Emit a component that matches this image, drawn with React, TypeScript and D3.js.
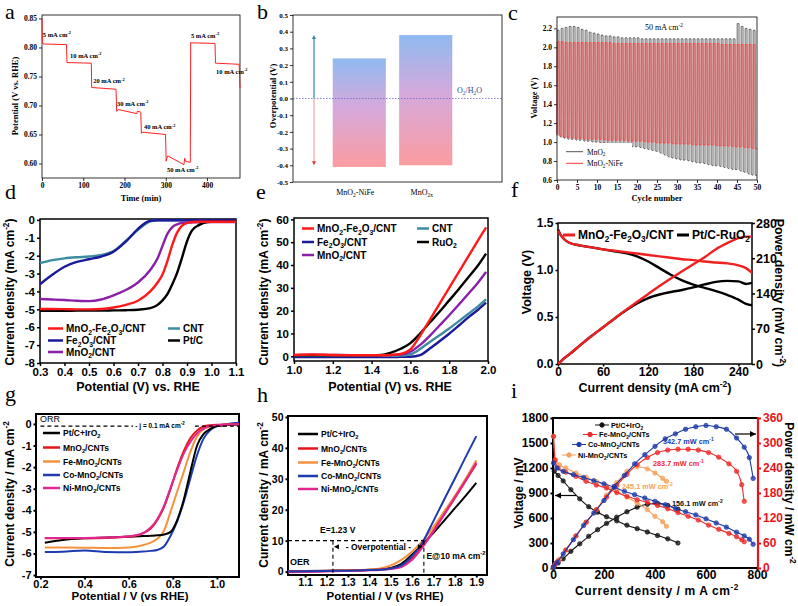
import React, { useEffect, useRef } from "react";
import * as d3 from "d3";

const W = 798;
const H = 606;
const SERIF = "'Liberation Serif','Times New Roman',serif";
const SANS = "'Liberation Sans',Arial,Helvetica,sans-serif";

// ---------- a: potential vs time at stepped current
const aTime = [0, 1, 3, 59.5, 60.5, 119.5, 120.5, 179.5, 181, 185, 230, 231, 238, 239.5, 241, 243, 299.5, 301, 303, 305, 344, 346, 348, 359.5, 360.5, 362, 419.5, 420.5, 478, 480];
const aPot = [0.85, 0.81, 0.806, 0.805, 0.774, 0.773, 0.731, 0.728, 0.69, 0.693, 0.686, 0.69, 0.689, 0.688, 0.652, 0.654, 0.65, 0.604, 0.61, 0.613, 0.598, 0.609, 0.604, 0.602, 0.809, 0.808, 0.807, 0.773, 0.771, 0.73];
const aNotes = ["5 mA cm{^-2}", "10 mA cm{^-2}", "20 mA cm{^-2}", "30 mA cm{^-2}", "40 mA cm{^-2}", "50 mA cm{^-2}", "5 mA cm{^-2}", "10 mA cm{^-2}"];
const aNoteT = [2, 68, 124, 182, 247, 303, 361, 422];
const aNoteV = [0.818, 0.782, 0.738, 0.699, 0.659, 0.585, 0.816, 0.754];
const aXTicks = [0, 100, 200, 300, 400];
const aYTicks = [0.6, 0.65, 0.7, 0.75, 0.8, 0.85];

// ---------- b: overpotential bars
const bCats = ["MnO{_2}-NiFe", "MnO{_2x}"];
const bTop = [0.24, 0.38];
const bBottom = [-0.41, -0.4];
const bArrowUp = 0.38;
const bArrowDown = -0.4;
const bYTicks = [-0.5, -0.4, -0.3, -0.2, -0.1, 0, 0.1, 0.2, 0.3, 0.4, 0.5];

// ---------- c: charge / discharge cycling (upper and lower plateau per cycle)
const cMnUp = [2.18, 2.2, 2.21, 2.22, 2.22, 2.21, 2.19, 2.18, 2.16, 2.15, 2.14, 2.13, 2.12, 2.12, 2.11, 2.11, 2.1, 2.1, 2.1, 2.1, 2.1, 2.09, 2.09, 2.09, 2.09, 2.09, 2.09, 2.09, 2.09, 2.09, 2.09, 2.09, 2.09, 2.09, 2.09, 2.09, 2.09, 2.09, 2.09, 2.09, 2.09, 2.09, 2.09, 2.09, 2.09, 2.25, 2.22, 2.2, 2.19, 2.18];
const cMnLow = [1.07, 1.05, 1.04, 1.03, 1.03, 1.02, 1.02, 1.01, 1.01, 1.0, 1.0, 0.99, 0.99, 0.98, 0.98, 0.97, 0.97, 0.96, 0.96, 0.95, 0.95, 0.94, 0.93, 0.92, 0.91, 0.9, 0.88, 0.86, 0.84, 0.83, 0.82, 0.81, 0.81, 0.8, 0.79, 0.78, 0.78, 0.77, 0.76, 0.75, 0.75, 0.74, 0.73, 0.72, 0.71, 0.71, 0.69, 0.68, 0.66, 0.65];
const cNiUp = [2.06, 2.06, 2.05, 2.05, 2.05, 2.05, 2.05, 2.05, 2.05, 2.05, 2.05, 2.05, 2.05, 2.05, 2.04, 2.04, 2.04, 2.04, 2.04, 2.04, 2.04, 2.04, 2.04, 2.04, 2.04, 2.04, 2.04, 2.04, 2.04, 2.04, 2.04, 2.04, 2.04, 2.04, 2.04, 2.04, 2.04, 2.04, 2.04, 2.04, 2.04, 2.03, 2.03, 2.03, 2.03, 2.03, 2.03, 2.03, 2.03, 2.03];
const cNiLow = [1.08, 1.06, 1.05, 1.05, 1.04, 1.04, 1.04, 1.03, 1.03, 1.03, 1.03, 1.03, 1.02, 1.02, 1.02, 1.02, 1.02, 1.02, 1.01, 1.01, 1.01, 1.01, 1.0, 1.0, 1.0, 0.99, 0.99, 0.99, 0.99, 0.98, 0.98, 0.98, 0.98, 0.98, 0.97, 0.97, 0.97, 0.97, 0.97, 0.97, 0.96, 0.96, 0.96, 0.96, 0.95, 0.95, 0.95, 0.94, 0.94, 0.93];
const cXTicks = [0, 5, 10, 15, 20, 25, 30, 35, 40, 45, 50];
const cYTicks = [0.6, 0.8, 1.0, 1.2, 1.4, 1.6, 1.8, 2.0, 2.2];

// ---------- d: ORR polarization
const dPot = [0.3, 0.35, 0.4, 0.45, 0.5, 0.55, 0.6, 0.65, 0.7, 0.75, 0.78, 0.8, 0.82, 0.84, 0.86, 0.88, 0.9, 0.92, 0.95, 0.98, 1.0, 1.05, 1.1];
const dMnFe = [-4.98, -4.98, -4.99, -5.0, -5.0, -4.98, -4.9, -4.75, -4.52, -4.0, -3.5, -3.05, -2.3, -1.4, -0.7, -0.32, -0.17, -0.12, -0.1, -0.1, -0.1, -0.1, -0.1];
const dFe = [-3.6, -3.07, -2.62, -2.35, -2.2, -2.05, -1.78, -1.22, -0.5, -0.05, -0.02, -0.02, -0.02, -0.02, -0.02, -0.02, -0.02, -0.02, -0.02, -0.02, -0.02, -0.02, -0.02];
const dMn = [-4.42, -4.45, -4.48, -4.52, -4.54, -4.45, -4.22, -3.92, -3.5, -2.8, -2.15, -1.45, -0.78, -0.4, -0.25, -0.17, -0.15, -0.14, -0.13, -0.13, -0.12, -0.12, -0.12];
const dCnt = [-2.42, -2.25, -2.15, -2.09, -2.05, -1.96, -1.74, -1.18, -0.56, -0.08, -0.02, -0.02, -0.02, -0.02, -0.02, -0.02, -0.02, -0.02, -0.02, -0.02, -0.02, -0.02, -0.02];
const dPt = [-5.08, -5.08, -5.08, -5.07, -5.07, -5.07, -5.06, -5.05, -5.02, -4.93, -4.75, -4.5, -4.15, -3.6, -2.95, -2.1, -1.2, -0.6, -0.28, -0.12, -0.1, -0.1, -0.1];
const dXTicks = [0.3, 0.4, 0.5, 0.6, 0.7, 0.8, 0.9, 1.0, 1.1];
const dYTicks = [0, -1, -2, -3, -4, -5, -6, -7, -8];

// ---------- e: OER polarization
const ePot = [1.0, 1.1, 1.2, 1.3, 1.4, 1.45, 1.5, 1.55, 1.6, 1.65, 1.7, 1.75, 1.8, 1.85, 1.9, 1.95, 1.99];
const eMnFe = [0.6, 0.8, 0.6, 0.5, 0.5, 0.5, 0.6, 1.0, 3.0, 9.0, 16.0, 23.0, 30.0, 37.0, 44.0, 51.0, 56.5];
const eFe = [-0.3, -0.3, -0.3, -0.3, -0.3, -0.3, -0.3, -0.25, -0.2, 0.5, 3.4, 6.6, 9.9, 13.5, 17.2, 20.5, 23.5];
const eMn = [0.5, 0.7, 0.6, 0.5, 0.5, 0.5, 0.6, 0.8, 2.0, 5.0, 9.0, 13.5, 18.0, 22.7, 27.5, 32.5, 37.0];
const eCnt = [0.2, 0.2, 0.2, 0.2, 0.2, 0.2, 0.2, 0.3, 0.9, 3.2, 6.3, 9.2, 12.2, 15.4, 18.7, 22.0, 25.0];
const eRu = [0.5, 0.5, 0.5, 0.5, 0.5, 0.6, 1.6, 3.3, 5.8, 10.0, 14.8, 19.5, 24.5, 29.5, 34.7, 40.0, 45.0];
const eXTicks = [1.0, 1.2, 1.4, 1.6, 1.8, 2.0];
const eYTicks = [0, 10, 20, 30, 40, 50, 60];

// ---------- f: discharge polarization and power density
const fCur = [0, 3, 8, 15, 30, 45, 60, 75, 90, 105, 120, 135, 150, 165, 180, 195, 210, 225, 240, 250, 258];
const fMnFeV = [1.42, 1.38, 1.33, 1.29, 1.26, 1.24, 1.22, 1.205, 1.19, 1.175, 1.16, 1.145, 1.13, 1.115, 1.105, 1.09, 1.08, 1.07, 1.05, 1.02, 0.97];
const fPtV = [1.43, 1.38, 1.33, 1.29, 1.26, 1.24, 1.22, 1.2, 1.18, 1.145, 1.09, 1.02, 0.95, 0.89, 0.845, 0.81, 0.775, 0.735, 0.685, 0.64, 0.625];
const fMnFeP = [0, 4, 11, 19, 38, 56, 73, 90, 107, 123, 139, 155, 170, 184, 198, 212, 228, 240, 250, 253, 253];
const fPtP = [0, 4, 11, 19, 38, 56, 73, 90, 106, 120, 131, 138, 143, 147, 152, 158, 163, 165, 164, 159, 161];
const fXTicks = [0, 60, 120, 180, 240];
const fYTicks = [0, 0.5, 1.0, 1.5];
const fY2Ticks = [0, 70, 140, 210, 280];

// ---------- g: ORR LSV
const gPot = [0.22, 0.3, 0.4, 0.5, 0.6, 0.65, 0.7, 0.73, 0.76, 0.79, 0.82, 0.85, 0.88, 0.91, 0.94, 0.97, 1.0, 1.05, 1.1];
const gPt = [-5.5, -5.38, -5.3, -5.26, -5.22, -5.2, -5.18, -5.16, -5.12, -5.0, -4.45, -3.5, -2.2, -1.0, -0.46, -0.23, -0.1, -0.05, -0.03];
const gMn = [-5.3, -5.3, -5.3, -5.28, -5.22, -5.12, -4.85, -4.45, -3.85, -3.0, -2.05, -1.25, -0.65, -0.3, -0.12, -0.06, -0.04, -0.03, -0.02];
const gFeMn = [-5.72, -5.72, -5.73, -5.75, -5.72, -5.65, -5.5, -5.32, -4.95, -4.06, -3.13, -2.21, -1.28, -0.58, -0.23, -0.12, -0.06, -0.03, -0.02];
const gCoMn = [-5.93, -5.92, -5.86, -5.93, -5.94, -5.92, -5.88, -5.84, -5.68, -5.18, -4.5, -3.6, -2.5, -1.44, -0.67, -0.28, -0.1, 0.0, 0.05];
const gNiMn = [-5.28, -5.28, -5.28, -5.26, -5.2, -5.12, -4.8, -4.4, -3.8, -2.95, -2.13, -1.36, -0.82, -0.43, -0.22, -0.1, -0.06, -0.03, -0.02];
const gXTicks = [0.2, 0.4, 0.6, 0.8, 1.0];
const gYTicks = [0, -1, -2, -3, -4, -5, -6, -7];
const gLimit = -0.1;

// ---------- h: OER LSV
const hPot = [1.02, 1.1, 1.2, 1.3, 1.4, 1.45, 1.5, 1.55, 1.6, 1.65, 1.7, 1.75, 1.8, 1.85, 1.9];
const hPt = [0.1, 0.2, 0.3, 0.4, 0.6, 0.8, 1.2, 2.5, 5.5, 9.0, 12.5, 16.5, 20.5, 24.5, 28.7];
const hMn = [0.0, 0.1, 0.2, 0.3, 0.5, 0.7, 1.0, 1.8, 4.2, 8.3, 13.3, 18.5, 23.8, 29.3, 34.8];
const hFeMn = [0.0, 0.1, 0.3, 0.4, 0.7, 1.0, 2.0, 3.8, 6.5, 10.0, 14.5, 19.5, 24.5, 30.0, 36.0];
const hCoMn = [0.0, 0.1, 0.2, 0.3, 0.5, 0.6, 1.0, 2.0, 5.0, 9.6, 16.4, 23.3, 30.1, 37.0, 43.8];
const hNiMn = [-0.2, -0.1, 0.0, 0.2, 0.4, 0.5, 0.8, 1.5, 3.8, 8.0, 13.0, 18.5, 24.0, 29.5, 35.3];
const hXTicks = [1.1, 1.2, 1.3, 1.4, 1.5, 1.6, 1.7, 1.8, 1.9];
const hYTicks = [0, 10, 20, 30, 40, 50];
const hE0 = 1.23;
const hE10 = 1.655;
const hJ = 10;

// ---------- i: Zn-air polarization / power (voltage mV, power mW cm-2)
const iPtCur = [5, 20, 40, 70, 105, 140, 175, 210, 250, 290, 330, 370, 410, 450, 490];
const iPtV = [1160, 1110, 1045, 940, 830, 735, 670, 615, 566, 514, 472, 432, 390, 350, 300];
const iPtP = [2, 12, 22, 40, 58, 76, 92, 107, 122, 135, 146, 153, 155, 150, 141];
const iFeCur = [2, 8, 20, 50, 90, 130, 170, 210, 250, 290, 330, 370, 410, 450, 490, 530, 570, 610, 650, 690, 720, 740, 750];
const iFeV = [1580, 1290, 1200, 1150, 1100, 1040, 995, 960, 905, 860, 820, 790, 750, 710, 665, 620, 575, 515, 465, 415, 375, 340, 315];
const iFeP = [3, 10, 17, 43, 77, 110, 140, 170, 198, 225, 248, 265, 277, 283, 285, 285, 283, 277, 266, 250, 232, 200, 160];
const iCoCur = [2, 15, 40, 80, 120, 160, 200, 240, 280, 320, 360, 400, 440, 480, 520, 560, 600, 640, 680, 720, 750, 770, 785];
const iCoV = [1260, 1200, 1160, 1120, 1085, 1048, 1010, 968, 920, 880, 840, 800, 760, 715, 675, 637, 590, 540, 490, 430, 385, 345, 285];
const iCoP = [3, 13, 34, 68, 102, 132, 162, 196, 222, 250, 272, 292, 310, 322, 333, 339, 342, 339, 333, 312, 290, 265, 215];
const iNiCur = [2, 10, 25, 50, 90, 130, 170, 210, 250, 290, 330, 370, 400, 430, 445];
const iNiV = [1580, 1300, 1240, 1200, 1140, 1090, 1040, 985, 925, 850, 780, 700, 620, 555, 500];
const iNiP = [3, 9, 21, 43, 77, 110, 140, 175, 205, 232, 243, 238, 228, 215, 208];
const iXTicks = [0, 200, 400, 600, 800];
const iYTicks = [0, 300, 600, 900, 1200, 1500, 1800];
const iY2Ticks = [0, 60, 120, 180, 240, 300, 360];
const iPeaks = ["342.7 mW cm{^-1}", "283.7 mW cm{^-1}", "245.1 mW cm{^-2}", "156.1 mW cm{^-2}"];

const BOX = {
  a: { l: 42, t: 15, r: 240, b: 178 },
  b: { l: 293, t: 15, r: 502, b: 182 },
  c: { l: 557, t: 17, r: 757, b: 180 },
  d: { l: 40, t: 219, r: 236, b: 363 },
  e: { l: 294, t: 218, r: 488, b: 361 },
  f: { l: 558, t: 223, r: 752, b: 364 },
  g: { l: 36, t: 414, r: 239, b: 577 },
  h: { l: 288, t: 416, r: 487, b: 575 },
  i: { l: 553, t: 418, r: 758, b: 568 },
};

// text with {_sub} and {^sup} markup
function label(g, x, y, str, o) {
  const t = g
    .append("text")
    .attr("transform", `translate(${x},${y})${o.rotate ? ` rotate(${o.rotate})` : ""}`)
    .attr("font-family", o.family || SANS)
    .attr("font-size", o.size)
    .attr("font-weight", o.weight || "bold")
    .attr("text-anchor", o.anchor || "start")
    .attr("fill", o.fill || "#000");
  if (o.spacing) t.attr("letter-spacing", o.spacing);
  let shift = 0;
  str
    .split(/(\{[_^][^}]*\})/)
    .filter(Boolean)
    .forEach((p) => {
      const m = p.match(/^\{([_^])(.*)\}$/);
      const target = m ? (m[1] === "_" ? 0.25 * o.size : -0.42 * o.size) : 0;
      t.append("tspan")
        .attr("dy", target - shift)
        .attr("font-size", m ? o.size * 0.68 : o.size)
        .text(m ? m[2] : p);
      shift = target;
    });
  return t;
}

function frame(g, x, y, B, o) {
  const xa = g
    .append("g")
    .attr("transform", `translate(0,${B.b})`)
    .call(d3.axisBottom(x).tickValues(o.xTicks || []).tickFormat(o.xFmt).tickSizeOuter(0).tickSize(o.tick).tickPadding(o.padX ?? 2));
  const ya = g
    .append("g")
    .attr("transform", `translate(${B.l},0)`)
    .call(d3.axisLeft(y).tickValues(o.yTicks).tickFormat(o.yFmt).tickSizeOuter(0).tickSize(o.tick).tickPadding(o.padY ?? 2));
  [xa, ya].forEach((a) => {
    a.select(".domain").remove();
    a.selectAll("line").attr("stroke", "#000").attr("stroke-width", o.sw);
    a.selectAll("text")
      .attr("fill", "#000")
      .attr("font-family", o.family)
      .attr("font-size", o.size)
      .attr("font-weight", "bold");
  });
  g.append("rect")
    .attr("x", B.l)
    .attr("y", B.t)
    .attr("width", B.r - B.l)
    .attr("height", B.b - B.t)
    .attr("fill", "none")
    .attr("stroke", "#000")
    .attr("stroke-width", o.sw);
}

function curve(g, x, y, xs, ys, color, width, smooth = true) {
  const line = d3
    .line()
    .x((d) => x(d[0]))
    .y((d) => y(d[1]))
    .curve(smooth ? d3.curveMonotoneX : d3.curveLinear);
  return g
    .append("path")
    .datum(d3.zip(xs, ys))
    .attr("d", line)
    .attr("fill", "none")
    .attr("stroke", color)
    .attr("stroke-width", width)
    .attr("stroke-linejoin", "round");
}

function legendRow(g, x1, x2, yc, color, text, size, width) {
  g.append("line").attr("x1", x1).attr("x2", x2).attr("y1", yc).attr("y2", yc).attr("stroke", color).attr("stroke-width", width);
  label(g, x2 + 3, yc + size * 0.36, text, { size });
}

function panelLetters(svg) {
  const letters = [
    ["a", 5, 19],
    ["b", 257, 19],
    ["c", 508, 20],
    ["d", 5, 199],
    ["e", 256, 199],
    ["f", 511, 197],
    ["g", 5, 401],
    ["h", 257, 402],
    ["i", 511, 398],
  ];
  letters.forEach(([s, x, y]) =>
    svg.append("text").attr("x", x).attr("y", y).attr("font-family", SERIF).attr("font-size", 22).text(s)
  );
}

function drawA(svg) {
  const B = BOX.a;
  const x = d3.scaleLinear().domain([0, 480]).range([B.l, B.r]);
  const y = d3.scaleLinear().domain([0.575, 0.856]).range([B.b, B.t]);
  const g = svg.append("g");
  frame(g, x, y, B, { xTicks: aXTicks, yTicks: aYTicks, xFmt: (d) => String(d), yFmt: (d) => d.toFixed(2), size: 7.5, family: SERIF, sw: 0.8, tick: 3 });
  curve(g, x, y, aTime, aPot, "#ff2020", 1, false);
  aNotes.forEach((s, i) => label(g, x(aNoteT[i]), y(aNoteV[i]), s, { size: 6.5, family: SERIF }));
  label(g, 141, 201, "Time (min)", { size: 8.5, family: SERIF, anchor: "middle" });
  label(g, 18, 96, "Potential (V vs. RHE)", { size: 8.5, family: SERIF, anchor: "middle", rotate: -90 });
}

function drawB(svg) {
  const B = BOX.b;
  const y = d3.scaleLinear().domain([-0.5, 0.5]).range([B.b, B.t]);
  const x = d3.scaleBand().domain(bCats).range([332.7, 452.3]).paddingInner(0.2).paddingOuter(0);
  const g = svg.append("g");
  const defs = g.append("defs");
  const grad = defs.append("linearGradient").attr("id", "bgrad").attr("x1", 0).attr("x2", 0).attr("y1", 0).attr("y2", 1);
  grad.append("stop").attr("offset", 0).attr("stop-color", "#8fbaf0");
  grad.append("stop").attr("offset", 0.45).attr("stop-color", "#d6a9dc");
  grad.append("stop").attr("offset", 1).attr("stop-color", "#fb9ca0");
  g.selectAll("rect.bar")
    .data(bCats)
    .join("rect")
    .attr("class", "bar")
    .attr("x", (d) => x(d))
    .attr("width", x.bandwidth())
    .attr("y", (d, i) => y(bTop[i]))
    .attr("height", (d, i) => y(bBottom[i]) - y(bTop[i]))
    .attr("fill", "url(#bgrad)");
  g.append("line").attr("x1", B.l).attr("x2", B.r).attr("y1", y(0)).attr("y2", y(0)).attr("stroke", "#6b6bc8").attr("stroke-width", 0.8).attr("stroke-dasharray", "1.5,1.5");
  const ax = B.l + 21;
  g.append("line").attr("x1", ax).attr("x2", ax).attr("y1", y(0)).attr("y2", y(bArrowUp) + 3).attr("stroke", "#2c8aa0").attr("stroke-width", 1.2);
  g.append("path").attr("d", `M${ax - 2},${y(bArrowUp) + 4}L${ax},${y(bArrowUp)}L${ax + 2},${y(bArrowUp) + 4}Z`).attr("fill", "#2c8aa0");
  g.append("line").attr("x1", ax).attr("x2", ax).attr("y1", y(0)).attr("y2", y(bArrowDown) - 3).attr("stroke", "#f2a0a0").attr("stroke-width", 1.2);
  g.append("path").attr("d", `M${ax - 2},${y(bArrowDown) - 4}L${ax},${y(bArrowDown)}L${ax + 2},${y(bArrowDown) - 4}Z`).attr("fill", "#e03040");
  frame(g, x, y, B, { xTicks: [], yTicks: bYTicks, xFmt: () => "", yFmt: (d) => d.toFixed(1), size: 7, family: SERIF, sw: 0.8, tick: 3 });
  bCats.forEach((c) => label(g, x(c) + x.bandwidth() / 2 - 4, 195, c, { size: 8, family: SERIF, weight: "normal", anchor: "middle" }));
  label(g, 457, y(0.03), "O{_2}/H{_2}O", { size: 8, family: SERIF, weight: "normal", fill: "#3346a0" });
  label(g, 276, 96, "Overpotential (V)", { size: 8.5, family: SERIF, anchor: "middle", rotate: -90 });
}

function wave(up, low) {
  const pts = [];
  up.forEach((u, i) => {
    pts.push([i, low[i]], [i + 0.05, u], [i + 0.5, u], [i + 0.55, low[i]]);
  });
  pts.push([up.length, low[low.length - 1]]);
  return pts;
}

function drawC(svg) {
  const B = BOX.c;
  const x = d3.scaleLinear().domain([0, 50]).range([B.l, B.r]);
  const y = d3.scaleLinear().domain([0.6, 2.32]).range([B.b, B.t]);
  const g = svg.append("g");
  const line = d3.line().x((d) => x(d[0])).y((d) => y(d[1]));
  g.append("path").attr("d", line(wave(cMnUp, cMnLow))).attr("fill", "none").attr("stroke", "#555").attr("stroke-width", 0.9);
  g.append("path").attr("d", line(wave(cNiUp, cNiLow))).attr("fill", "none").attr("stroke", "#ff3a3a").attr("stroke-width", 0.9);
  frame(g, x, y, B, { xTicks: cXTicks, yTicks: cYTicks, xFmt: (d) => String(d), yFmt: (d) => d.toFixed(1), size: 7.5, family: SERIF, sw: 0.8, tick: 3 });
  g.append("rect").attr("x", 562).attr("y", 143).attr("width", 70).attr("height", 26).attr("fill", "#fff");
  g.append("line").attr("x1", 566).attr("x2", 583).attr("y1", 151.7).attr("y2", 151.7).attr("stroke", "#555");
  g.append("line").attr("x1", 566).attr("x2", 583).attr("y1", 163.3).attr("y2", 163.3).attr("stroke", "#ff3a3a");
  label(g, 587, 154.5, "MnO{_2}", { size: 7.5, family: SERIF, weight: "normal" });
  label(g, 587, 166, "MnO{_2}-NiFe", { size: 7.5, family: SERIF, weight: "normal" });
  label(g, 664, 30, "50 mA cm{^-2}", { size: 8, family: SERIF, weight: "normal", anchor: "middle" });
  label(g, 657, 201, "Cycle number", { size: 8.5, family: SERIF, anchor: "middle" });
  label(g, 537, 98, "Voltage (V)", { size: 8.5, family: SERIF, anchor: "middle", rotate: -90 });
}

function drawD(svg) {
  const B = BOX.d;
  const x = d3.scaleLinear().domain([0.3, 1.1]).range([B.l, B.r]);
  const y = d3.scaleLinear().domain([-8, 0.05]).range([B.b, B.t]);
  const g = svg.append("g");
  frame(g, x, y, B, { xTicks: dXTicks, yTicks: dYTicks, xFmt: (d) => d.toFixed(1), yFmt: (d) => String(d), size: 11.5, family: SANS, sw: 1.5, tick: 3 });
  curve(g, x, y, dPot, dCnt, "#3d8ca0", 2.4);
  curve(g, x, y, dPot, dFe, "#1a1a9a", 2.4);
  curve(g, x, y, dPot, dMn, "#8a1fa8", 2.4);
  curve(g, x, y, dPot, dPt, "#000", 2.4);
  curve(g, x, y, dPot, dMnFe, "#ff1a1a", 2.4);
  legendRow(g, 48, 63, 328.5, "#ff1a1a", "MnO{_2}-Fe{_2}O{_3}/CNT", 10, 2.5);
  legendRow(g, 48, 63, 340.5, "#1a1a9a", "Fe{_2}O{_3}/CNT", 10, 2.5);
  legendRow(g, 48, 63, 352, "#8a1fa8", "MnO{_2}/CNT", 10, 2.5);
  legendRow(g, 168, 180, 328.5, "#3d8ca0", "CNT", 10, 2.5);
  legendRow(g, 168, 180, 340.5, "#000", "Pt/C", 10, 2.5);
  label(g, 138, 391, "Potential (V) vs. RHE", { size: 12.5, anchor: "middle" });
  label(g, 14, 292, "Current density (mA cm{^-2})", { size: 12, anchor: "middle", rotate: -90 });
}

function drawE(svg) {
  const B = BOX.e;
  const x = d3.scaleLinear().domain([1, 2]).range([B.l, B.r]);
  const y = d3.scaleLinear().domain([-2.05, 60.6]).range([B.b, B.t]);
  const g = svg.append("g");
  frame(g, x, y, B, { xTicks: eXTicks, yTicks: eYTicks, xFmt: (d) => d.toFixed(1), yFmt: (d) => String(d), size: 11.5, family: SANS, sw: 1.5, tick: 3 });
  curve(g, x, y, ePot, eFe, "#1a1a9a", 2.4);
  curve(g, x, y, ePot, eCnt, "#3d8ca0", 2.4);
  curve(g, x, y, ePot, eMn, "#8a1fa8", 2.4);
  curve(g, x, y, ePot, eRu, "#000", 2.4);
  curve(g, x, y, ePot, eMnFe, "#ff1a1a", 2.4);
  legendRow(g, 302, 314, 228.5, "#ff1a1a", "MnO{_2}-Fe{_2}O{_3}/CNT", 10, 2.5);
  legendRow(g, 302, 314, 242, "#1a1a9a", "Fe{_2}O{_3}/CNT", 10, 2.5);
  legendRow(g, 302, 314, 255, "#8a1fa8", "MnO{_2}/CNT", 10, 2.5);
  legendRow(g, 417, 429, 228.5, "#3d8ca0", "CNT", 10, 2.5);
  legendRow(g, 417, 429, 242, "#000", "RuO{_2}", 10, 2.5);
  label(g, 390, 391, "Potential (V) vs. RHE", { size: 12.5, anchor: "middle" });
  label(g, 268, 292, "Current density (mA cm{^-2})", { size: 12, anchor: "middle", rotate: -90 });
}

function drawF(svg) {
  const B = BOX.f;
  const x = d3.scaleLinear().domain([0, 258]).range([B.l, B.r]);
  const y = d3.scaleLinear().domain([0, 1.5]).range([B.b, B.t]);
  const y2 = d3.scaleLinear().domain([0, 280]).range([B.b, B.t]);
  const g = svg.append("g");
  frame(g, x, y, B, { xTicks: fXTicks, yTicks: fYTicks, xFmt: (d) => String(d), yFmt: (d) => d.toFixed(1), size: 12, family: SANS, sw: 1.5, tick: 2.5, padX: 0.5 });
  const ra = g.append("g").attr("transform", `translate(${B.r},0)`).call(d3.axisRight(y2).tickValues(fY2Ticks).tickSize(3).tickSizeOuter(0).tickPadding(1));
  ra.select(".domain").remove();
  ra.selectAll("line").attr("stroke-width", 1.5);
  ra.selectAll("text").attr("font-family", SANS).attr("font-size", 12.5).attr("font-weight", "bold");
  curve(g, x, y2, fCur, fPtP, "#000", 2.4);
  curve(g, x, y, fCur, fPtV, "#000", 2.4);
  curve(g, x, y2, fCur, fMnFeP, "#ee2020", 2.4);
  curve(g, x, y, fCur, fMnFeV, "#ee2020", 2.4);
  legendRow(g, 563, 575, 235, "#ee2020", "MnO{_2}-Fe{_2}O{_3}/CNT", 12, 3);
  legendRow(g, 677, 689, 235, "#000", "Pt/C-RuO{_2}", 12, 3);
  label(g, 655, 392, "Current density (mA cm{^-2})", { size: 12.5, anchor: "middle" });
  label(g, 531, 282, "Voltage (V)", { size: 12.5, anchor: "middle", rotate: -90 });
  label(g, 775, 293, "Power density (mW cm{^-2})", { size: 12.5, anchor: "middle", rotate: 90 });
}

const GH_COLORS = ["#000", "#e8141b", "#f5923e", "#1f3bb0", "#e0288f"];
const GH_NAMES = ["Pt/C+IrO{_2}", "MnO{_2}/CNTs", "Fe-MnO{_2}/CNTs", "Co-MnO{_2}/CNTs", "Ni-MnO{_2}/CNTs"];
const GH_ROWS = [433, 447.5, 461.5, 475, 488];

function drawG(svg) {
  const B = BOX.g;
  const x = d3.scaleLinear().domain([0.18, 1.1]).range([B.l, B.r]);
  const y = d3.scaleLinear().domain([-7.09, 0.46]).range([B.b, B.t]);
  const g = svg.append("g");
  frame(g, x, y, B, { xTicks: gXTicks, yTicks: gYTicks, xFmt: (d) => d.toFixed(1), yFmt: (d) => String(d), size: 11, family: SANS, sw: 2, tick: 2.5, padX: 1 });
  const series = [gPt, gMn, gFeMn, gCoMn, gNiMn];
  [3, 2, 0, 1, 4].forEach((k) => curve(g, x, y, gPot, series[k], GH_COLORS[k], 2));
  g.append("line").attr("x1", x(0.2)).attr("x2", x(0.62)).attr("y1", y(gLimit)).attr("y2", y(gLimit)).attr("stroke", "#000").attr("stroke-width", 1.2).attr("stroke-dasharray", "4,3");
  g.append("line").attr("x1", x(0.9)).attr("x2", x(1.1)).attr("y1", y(gLimit)).attr("y2", y(gLimit)).attr("stroke", "#000").attr("stroke-width", 1.2).attr("stroke-dasharray", "4,3");
  label(g, x(0.63), y(gLimit) + 2, "- j = 0.1 mA cm{^-2}", { size: 6.5 });
  label(g, 40, 422, "ORR", { size: 9, weight: "normal" });
  GH_NAMES.forEach((n, i) => legendRow(g, 43, 60, GH_ROWS[i], GH_COLORS[i], n, 8.5, 2.5));
  label(g, 130, 600, "Potential / V (vs RHE)", { size: 11.5, anchor: "middle" });
  label(g, 14, 494, "Current density / mA cm{^-2}", { size: 12, anchor: "middle", rotate: -90 });
}

function drawH(svg) {
  const B = BOX.h;
  const x = d3.scaleLinear().domain([1.02, 1.95]).range([B.l, B.r]);
  const y = d3.scaleLinear().domain([-1.1, 50.3]).range([B.b, B.t]);
  const g = svg.append("g");
  frame(g, x, y, B, { xTicks: hXTicks, yTicks: hYTicks, xFmt: (d) => d.toFixed(1), yFmt: (d) => String(d), size: 10.5, family: SANS, sw: 2, tick: 2.5, padX: 1 });
  const series = [hPt, hMn, hFeMn, hCoMn, hNiMn];
  [0, 2, 1, 4, 3].forEach((k) => curve(g, x, y, hPot, series[k], GH_COLORS[k], 2));
  const dash = (x1, y1, x2, y2) =>
    g.append("line").attr("x1", x1).attr("x2", x2).attr("y1", y1).attr("y2", y2).attr("stroke", "#000").attr("stroke-width", 1.1).attr("stroke-dasharray", "4,3");
  dash(B.l, y(hJ), x(hE10), y(hJ));
  dash(x(hE0), y(hJ), x(hE0), y(-0.6));
  dash(x(hE10), y(hJ), x(hE10), B.b);
  const ay = y(8);
  g.append("path").attr("d", `M${x(hE0) + 1},${ay}l5,-2.5v5Z`).attr("fill", "#000");
  g.append("path").attr("d", `M${x(hE10) - 1},${ay}l-5,-2.5v5Z`).attr("fill", "#000");
  label(g, (x(hE0) + x(hE10)) / 2, ay + 3, "- Overpotential -", { size: 8.5, anchor: "middle" });
  label(g, x(1.17), y(12.6), "E=1.23 V", { size: 8.5 });
  label(g, x(1.667), y(4.2), "E@10 mA cm{^-2}", { size: 8.5 });
  label(g, 290, 565, "OER", { size: 9 });
  GH_NAMES.forEach((n, i) => legendRow(g, 298, 318, GH_ROWS[i] + 1, GH_COLORS[i], n, 8.5, 2.5));
  label(g, 385, 600, "Potential / V (vs RHE)", { size: 11.5, anchor: "middle" });
  label(g, 268, 495, "Current density / mA cm{^-2}", { size: 12, anchor: "middle", rotate: -90 });
}

function drawI(svg) {
  const B = BOX.i;
  const x = d3.scaleLinear().domain([0, 800]).range([B.l, 757]);
  const y = d3.scaleLinear().domain([0, 1800]).range([B.b, B.t]);
  const y2 = d3.scaleLinear().domain([0, 360]).range([B.b, B.t]);
  const g = svg.append("g");
  frame(g, x, y, B, { xTicks: iXTicks, yTicks: iYTicks, xFmt: (d) => String(d), yFmt: (d) => String(d), size: 12, family: SANS, sw: 2, tick: 2.5, padX: 0 });
  const red = "#e8141b";
  const ra = g.append("g").attr("transform", `translate(${B.r},0)`).call(d3.axisRight(y2).tickValues(iY2Ticks).tickSize(3).tickSizeOuter(0).tickPadding(2));
  ra.select(".domain").remove();
  ra.selectAll("line").attr("stroke", red).attr("stroke-width", 2);
  ra.selectAll("text").attr("fill", red).attr("font-family", SANS).attr("font-size", 12).attr("font-weight", "bold");
  g.append("line").attr("x1", B.r).attr("x2", B.r).attr("y1", B.t - 1).attr("y2", B.b + 1).attr("stroke", red).attr("stroke-width", 2.2);

  const set = [
    { cur: iPtCur, v: iPtV, p: iPtP, c: "#111" },
    { cur: iNiCur, v: iNiV, p: iNiP, c: "#f5a05a" },
    { cur: iFeCur, v: iFeV, p: iFeP, c: "#ee2a2a" },
    { cur: iCoCur, v: iCoV, p: iCoP, c: "#1c3aa9" },
  ];
  set.forEach((s) => {
    [
      [s.v, y],
      [s.p, y2],
    ].forEach(([vals, sc]) => {
      curve(g, x, sc, s.cur, vals, s.c, 1.1);
      g.append("g")
        .selectAll("circle")
        .data(d3.zip(s.cur, vals))
        .join("circle")
        .attr("cx", (d) => x(d[0]))
        .attr("cy", (d) => sc(d[1]))
        .attr("r", 2.2)
        .attr("fill", s.c)
        .attr("fill-opacity", 0.75)
        .attr("stroke", s.c)
        .attr("stroke-width", 0.7);
    });
  });

  // legend (staggered)
  const leg = [
    ["Pt/C+IrO{_2}", "#111", 595, 425],
    ["Fe-MnO{_2}/CNTs", "#ee2a2a", 583, 434.5],
    ["Co-MnO{_2}/CNTs", "#1c3aa9", 572, 444.5],
    ["Ni-MnO{_2}/CNTs", "#f5a05a", 562, 455],
  ];
  leg.forEach(([n, c, lx, ly]) => {
    g.append("line").attr("x1", lx).attr("x2", lx + 14).attr("y1", ly).attr("y2", ly).attr("stroke", c).attr("stroke-width", 1);
    g.append("circle").attr("cx", lx + 7).attr("cy", ly).attr("r", 2.2).attr("fill", c).attr("stroke", c);
    label(g, lx + 16, ly + 2.7, n, { size: 7.3 });
  });
  const peakCol = ["#1c3aa9", "#ee2a2a", "#f5a05a", "#111"];
  const peakPos = [
    [663, 444],
    [653, 466],
    [622, 489],
    [672, 506],
  ];
  iPeaks.forEach((s, k) => label(g, peakPos[k][0], peakPos[k][1], s, { size: 7.3, fill: peakCol[k] }));

  const arrow = (x1, x2, yy) => {
    g.append("line").attr("x1", x1).attr("x2", x2).attr("y1", yy).attr("y2", yy).attr("stroke", "#000").attr("stroke-width", 1.2);
    const dir = x2 > x1 ? 1 : -1;
    g.append("path").attr("d", `M${x2},${yy}l${-dir * 6},-3v6Z`).attr("fill", "#000");
  };
  arrow(576, 555, 495.5);
  arrow(735, 756, 434);
  label(g, 657, 595, "Current density / m A cm{^-2}", { size: 12, anchor: "middle", spacing: 0.6 });
  label(g, 523, 493, "Voltage / mV", { size: 12, anchor: "middle", rotate: -90 });
  label(g, 785, 493, "Power density / mW cm{^-2}", { size: 12, anchor: "middle", rotate: 90 });
}

export default function App() {
  const ref = useRef(null);
  useEffect(() => {
    const svg = d3.select(ref.current);
    svg.selectAll("*").remove();
    drawA(svg);
    drawB(svg);
    drawC(svg);
    drawD(svg);
    drawE(svg);
    drawF(svg);
    drawG(svg);
    drawH(svg);
    drawI(svg);
    panelLetters(svg);
  }, []);
  return (
    <svg
      ref={ref}
      width={W}
      height={H}
      style={{ position: "absolute", left: 0, top: 0, background: "#fff" }}
    />
  );
}
